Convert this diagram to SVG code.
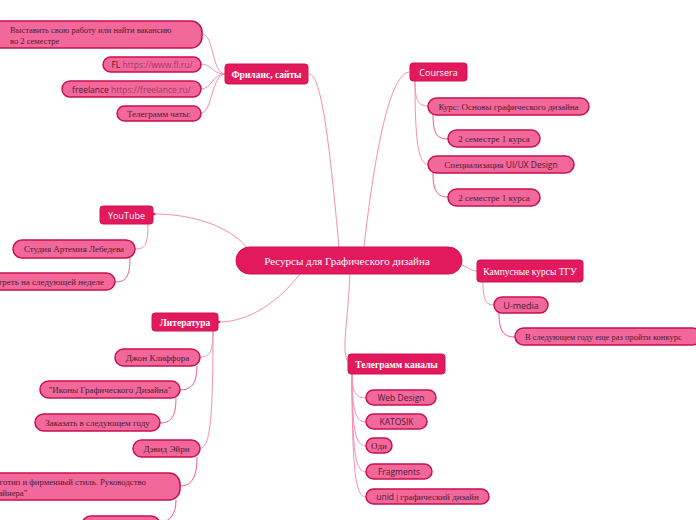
<svg xmlns="http://www.w3.org/2000/svg" width="696" height="520" viewBox="0 0 696 520">
<style>
.m{fill:#e2195c;stroke:#d3104f;stroke-width:1}
.s{fill:#f2689a;stroke:#c8104f;stroke-width:1.5}
.c{fill:none;stroke:#f48fb1;stroke-width:1}
.c2{fill:none;stroke:#ec5a8c;stroke-width:1}
.sf{font-family:"Liberation Serif","Times New Roman",serif;font-size:9px}
.ss{font-family:"Open Sans","Noto Sans","DejaVu Sans",sans-serif;font-size:8.5px}
.w{fill:#ffffff}
.d{fill:#4f1a33}
.u{fill:#9c3a6c}
.b{font-weight:bold}
</style>
<rect width="696" height="520" fill="#ffffff"/>
<g id="connectors">
<path class="c" d="M339,247 C330,150 322,74 309,74"/>
<path class="c" d="M364,247 C375,150 390,72 410,72"/>
<path class="c" d="M249,250 C230,225 190,214 154,214"/>
<path class="c" d="M300,274 C280,300 250,322 219,322"/>
<path class="c" d="M350,274 C348,320 341,352 348,362"/>
<path class="c" d="M462,265 C470,268 471,271 477,271"/>
<circle cx="154" cy="214" r="1.3" fill="#e2195c"/>
<circle cx="219" cy="322" r="1.3" fill="#e2195c"/>
<path class="c" d="M225,74 C212,74 214,34 202,34"/>
<path class="c" d="M225,74 C212,74 212,64 201,64"/>
<path class="c" d="M225,74 C212,74 212,89 201,89"/>
<path class="c" d="M225,74 C212,74 212,113 201,113"/>
<path class="c" d="M415,81 C415,100 418,106 428,106"/>
<path class="c" d="M415,81 C415,140 418,164 428,164"/>
<path class="c2" d="M433,115 C433,135 438,139 448,139"/>
<path class="c2" d="M433,173 C433,192 438,197 448,197"/>
<path class="c" d="M148,224 C148,245 145,249 135,249"/>
<path class="c2" d="M130,258 C130,278 125,282 115,282"/>
<path class="c" d="M483,282 C483,300 486,305 494,305"/>
<path class="c2" d="M499,313 C499,332 504,337 515,337"/>
<path class="c" d="M213,331 C213,352 210,357 200,357"/>
<path class="c" d="M213,331 C213,420 210,448 200,448"/>
<path class="c2" d="M197,366 C197,385 190,390 180,390"/>
<path class="c2" d="M176,398 C176,418 170,423 160,423"/>
<path class="c2" d="M197,457 C197,480 190,486 180,486"/>
<path class="c2" d="M176,500 C176,515 170,520 160,524"/>
<path class="c" d="M352,374 C352,392 356,398 366,398"/>
<path class="c" d="M352,374 C352,412 356,422 366,422"/>
<path class="c" d="M352,374 C352,432 356,446 366,446"/>
<path class="c" d="M352,374 C352,455 356,472 366,472"/>
<path class="c" d="M352,374 C352,475 356,497 366,497"/>
</g>
<g id="central"><rect class="m" x="236" y="247" width="226" height="27" rx="13.5"/><text class="sf w" x="347" y="264.5" text-anchor="middle" style="font-size:11px">Ресурсы для Графического дизайна</text></g>

<g id="freelance"><rect class="m" x="225" y="64" width="83" height="20" rx="3"/><text class="sf w b" x="266.5" y="77.5" text-anchor="middle" style="font-size:9.5px">Фриланс, сайты</text></g>
<g id="fr1"><rect class="s" x="-10" y="21" width="212" height="27" rx="11"/><text class="sf d" x="10" y="32.5" style="font-size:8.5px">Выставить свою работу или найти вакансию</text><text class="sf d" x="10" y="43.5" style="font-size:8.5px">во 2 семестре</text></g>
<g id="fr2"><rect class="s" x="103" y="57" width="98" height="15" rx="7.5"/><text class="ss" x="152" y="68" text-anchor="middle"><tspan class="d">FL</tspan><tspan class="u"> https://www.fl.ru/</tspan></text></g>
<g id="fr3"><rect class="s" x="62" y="81" width="139" height="16" rx="8"/><text class="ss" x="131.5" y="92.5" text-anchor="middle"><tspan class="d">freelance</tspan><tspan class="u"> https://freelance.ru/</tspan></text></g>
<g id="fr4"><rect class="s" x="117" y="106" width="84" height="15" rx="7.5"/><text class="sf d" x="159" y="117" text-anchor="middle">Телеграмм чаты:</text></g>

<g id="coursera"><rect class="m" x="410" y="63" width="57" height="18" rx="3"/><text class="ss w" x="438.5" y="75.5" text-anchor="middle" style="font-size:9px">Coursera</text></g>
<g id="co1"><rect class="s" x="428" y="98" width="161" height="17" rx="8.5"/><text class="sf d" x="508.5" y="110" text-anchor="middle">Курс: Основы графического дизайна</text></g>
<g id="co2"><rect class="s" x="448" y="130" width="92" height="17" rx="8.5"/><text class="sf d" x="494" y="142" text-anchor="middle">2 семестре 1 курса</text></g>
<g id="co3"><rect class="s" x="428" y="156" width="146" height="17" rx="8.5"/><text class="d" x="501" y="168" text-anchor="middle"><tspan class="sf">Специализация </tspan><tspan class="ss">UI/UX Design</tspan></text></g>
<g id="co4"><rect class="s" x="448" y="189" width="92" height="17" rx="8.5"/><text class="sf d" x="494" y="201" text-anchor="middle">2 семестре 1 курса</text></g>

<g id="youtube"><rect class="m" x="100" y="206" width="53" height="18" rx="3"/><text class="ss w" x="126.5" y="218.5" text-anchor="middle" style="font-size:9px">YouTube</text></g>
<g id="yt1"><rect class="s" x="13" y="240" width="122" height="18" rx="9"/><text class="sf d" x="74" y="252" text-anchor="middle">Студия Артемия Лебедева</text></g>
<g id="yt2"><rect class="s" x="-70" y="273" width="185" height="17" rx="8.5"/><text class="sf d" x="104" y="285" text-anchor="end">Посмотреть на следующей неделе</text></g>

<g id="campus"><rect class="m" x="477" y="260" width="106" height="22" rx="3"/><text class="sf w" x="530" y="274.5" text-anchor="middle" style="font-size:9.5px">Кампусные курсы ТГУ</text></g>
<g id="ca1"><rect class="s" x="494" y="297" width="54" height="16" rx="8"/><text class="ss d" x="521" y="308.5" text-anchor="middle" style="font-size:9px">U-media</text></g>
<g id="ca2"><rect class="s" x="515" y="328" width="186" height="17" rx="8.5"/><text class="sf d" x="525" y="340" style="font-size:8.5px">В следующем году еще раз пройти конкурс</text></g>

<g id="literature"><rect class="m" x="152" y="313" width="66" height="18" rx="3"/><text class="sf w b" x="185" y="326" text-anchor="middle" style="font-size:9.5px">Литература</text></g>
<g id="li1"><rect class="s" x="115" y="349" width="85" height="17" rx="8.5"/><text class="sf d" x="157.5" y="361" text-anchor="middle">Джон Клиффора</text></g>
<g id="li2"><rect class="s" x="40" y="381" width="140" height="17" rx="8.5"/><text class="sf d" x="110" y="393" text-anchor="middle">"Иконы Графического Дизайна"</text></g>
<g id="li3"><rect class="s" x="35" y="414" width="125" height="17" rx="8.5"/><text class="sf d" x="97.5" y="426" text-anchor="middle">Заказать в следующем году</text></g>
<g id="li4"><rect class="s" x="133" y="440" width="67" height="17" rx="8.5"/><text class="sf d" x="166.5" y="452" text-anchor="middle">Дэвид Эйри</text></g>
<g id="li5"><rect class="s" x="-60" y="473" width="240" height="27" rx="11"/><text class="sf d" x="-14" y="485" style="font-size:8.7px">"Логотип и фирменный стиль. Руководство</text><text class="sf d" x="-14" y="496" style="font-size:8.7px">дизайнера"</text></g>
<g id="li6"><rect class="s" x="82" y="516" width="78" height="20" rx="9"/></g>

<g id="telegram"><rect class="m" x="348" y="354" width="97" height="20" rx="3"/><text class="sf w b" x="396.5" y="367.5" text-anchor="middle" style="font-size:9.5px">Телеграмм каналы</text></g>
<g id="tg1"><rect class="s" x="366" y="390" width="70" height="15" rx="7.5"/><text class="ss d" x="401" y="401" text-anchor="middle">Web Design</text></g>
<g id="tg2"><rect class="s" x="366" y="414" width="61" height="15" rx="7.5"/><text class="ss d" x="396.5" y="425" text-anchor="middle">KATOSIK</text></g>
<g id="tg3"><rect class="s" x="366" y="438" width="26" height="15" rx="7.5"/><text class="sf d" x="379" y="449" text-anchor="middle">Оди</text></g>
<g id="tg4"><rect class="s" x="366" y="464" width="66" height="15" rx="7.5"/><text class="ss d" x="399" y="475" text-anchor="middle">Fragments</text></g>
<g id="tg5"><rect class="s" x="366" y="489" width="123" height="15" rx="7.5"/><text class="d" x="427.5" y="500" text-anchor="middle"><tspan class="ss">unid </tspan><tspan class="sf">| графический дизайн</tspan></text></g>
</svg>
